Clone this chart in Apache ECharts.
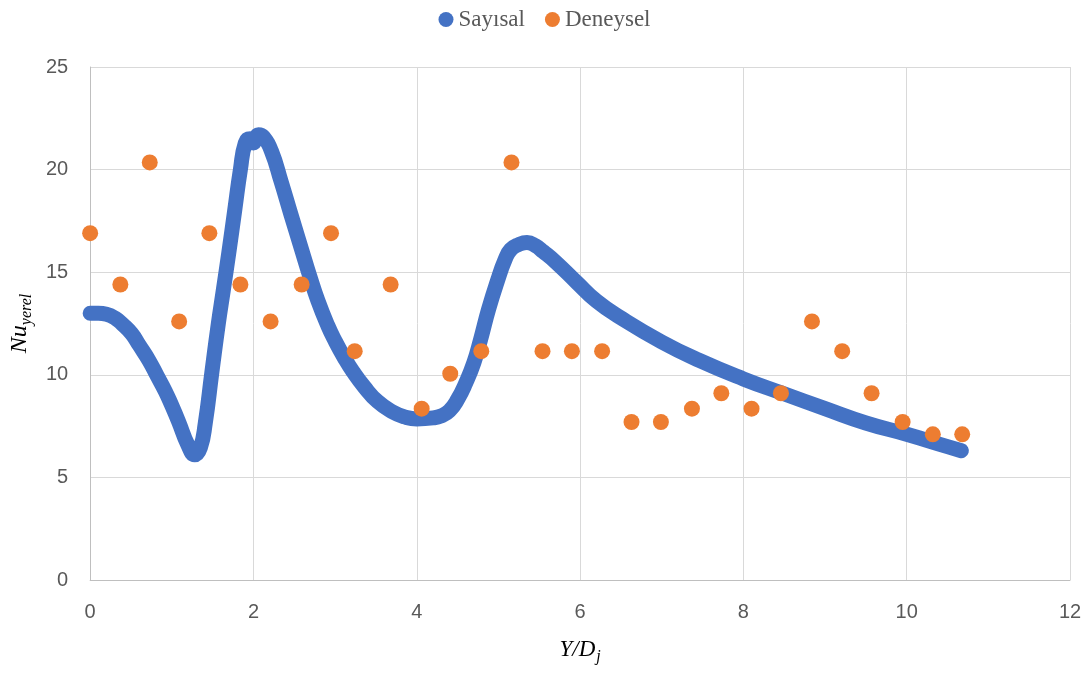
<!DOCTYPE html>
<html>
<head>
<meta charset="utf-8">
<script src="https://cdn.jsdelivr.net/npm/echarts@6/dist/echarts.min.js"></script>
<style>
    html, body { margin: 0; padding: 0; background: #fff; }
    #main { width: 1089px; height: 673px; }
</style>
</head>
<body>
<div id="main"></div>
<script>
// Sayısal (sayısal çözüm) eğrisi
const sayisalX = [0, 0.1, 0.2, 0.31, 0.4, 0.51, 0.6, 0.72, 0.82, 0.92, 1.0, 1.08, 1.2, 1.28, 1.35, 1.41, 1.49, 1.57, 1.63, 1.7, 1.77, 1.84, 1.9, 1.96, 2.0, 2.06, 2.12, 2.22, 2.34, 2.46, 2.59, 2.69, 2.79, 2.91, 3.0, 3.11, 3.22, 3.36, 3.52, 3.7, 3.85, 4.0, 4.2, 4.3, 4.4, 4.5, 4.6, 4.7, 4.78, 4.88, 4.99, 5.08, 5.15, 5.25, 5.35, 5.45, 5.55, 5.7, 5.96, 6.2, 6.49, 7.0, 7.46, 8.0, 8.48, 9.0, 9.5, 10.0, 10.5, 10.67];
const sayisalY = [13.0, 13.0, 12.95, 12.75, 12.45, 12.0, 11.45, 10.7, 9.95, 9.2, 8.5, 7.75, 6.55, 6.1, 6.45, 7.65, 10.1, 12.5, 14.1, 16.0, 18.0, 20.0, 21.3, 21.5, 21.3, 21.7, 21.6, 20.9, 19.4, 17.8, 16.1, 14.8, 13.6, 12.4, 11.65, 10.85, 10.15, 9.4, 8.7, 8.2, 7.95, 7.85, 7.9, 8.0, 8.25, 8.8, 9.6, 10.6, 11.7, 13.2, 14.6, 15.6, 16.1, 16.35, 16.45, 16.3, 16.0, 15.5, 14.5, 13.6, 12.8, 11.6, 10.7, 9.8, 9.1, 8.35, 7.65, 7.1, 6.5, 6.3];

// Deneysel ölçümler
const deneyselX = [0, 0.37, 0.73, 1.09, 1.46, 1.84, 2.21, 2.59, 2.95, 3.24, 3.68, 4.06, 4.41, 4.79, 5.16, 5.54, 5.90, 6.27, 6.63, 6.99, 7.37, 7.73, 8.10, 8.46, 8.84, 9.21, 9.57, 9.95, 10.32, 10.68];
const deneyselY = [16.9, 14.4, 20.35, 12.6, 16.9, 14.4, 12.6, 14.4, 16.9, 11.15, 14.4, 8.35, 10.05, 11.15, 20.35, 11.15, 11.15, 11.15, 7.7, 7.7, 8.35, 9.1, 8.35, 9.1, 12.6, 11.15, 9.1, 7.7, 7.1, 7.1];

const xTicks = [0, 2, 4, 6, 8, 10, 12];
const yTicks = [0, 5, 10, 15, 20, 25];

const chart = echarts.init(document.getElementById('main'));

const labelFont = "'Liberation Sans', sans-serif";
const serifFont = "'Liberation Serif', 'DejaVu Serif', serif";

const option = {
    animation: false,
    color: ['#4472C4', '#ED7D31'],
    legend: {
        top: 3,
        left: 'center',
        itemWidth: 15,
        itemHeight: 15,
        itemGap: 20,
        textStyle: { fontFamily: serifFont, fontSize: 23, color: '#595959' },
        data: [
            { name: 'Sayısal', icon: 'circle' },
            { name: 'Deneysel', icon: 'circle' }
        ]
    },
    grid: { left: 88, right: 19, top: 67, bottom: 93 },
    xAxis: {
        type: 'value',
        min: xTicks[0],
        max: xTicks[xTicks.length - 1],
        interval: 2,
        name: '{i|Y/D}{s|j}',
        nameLocation: 'middle',
        nameGap: 55,
        nameTextStyle: {
            rich: {
                i: { fontFamily: serifFont, fontStyle: 'italic', fontSize: 23, color: '#000' },
                s: { fontFamily: serifFont, fontStyle: 'italic', fontSize: 16, color: '#000', verticalAlign: 'bottom', padding: [14, 0, 0, 1] }
            }
        },
        axisLine: { lineStyle: { color: '#BFBFBF' } },
        axisTick: { show: false },
        axisLabel: { fontFamily: labelFont, fontSize: 20, color: '#595959', margin: 22 },
        splitLine: { show: true, lineStyle: { color: '#D9D9D9', width: 1 } }
    },
    yAxis: {
        type: 'value',
        min: yTicks[0],
        max: yTicks[yTicks.length - 1],
        interval: 5,
        name: '{i|Nu}{s|yerel}',
        nameLocation: 'middle',
        nameGap: 54,
        nameTextStyle: {
            rich: {
                i: { fontFamily: serifFont, fontStyle: 'italic', fontSize: 24, color: '#000' },
                s: { fontFamily: serifFont, fontStyle: 'italic', fontSize: 16, color: '#000', verticalAlign: 'bottom', padding: [14, 0, 0, 0] }
            }
        },
        axisLine: { show: true, lineStyle: { color: '#BFBFBF' } },
        axisTick: { show: false },
        axisLabel: { fontFamily: labelFont, fontSize: 20, color: '#595959', margin: 22 },
        splitLine: { show: true, lineStyle: { color: '#D9D9D9', width: 1 } }
    },
    series: [
        {
            name: 'Sayısal',
            type: 'line',
            smooth: 0.5,
            showSymbol: false,
            symbol: 'circle',
            lineStyle: { width: 15, color: '#4472C4', cap: 'round', join: 'round' },
            itemStyle: { color: '#4472C4' },
            data: sayisalX.map((x, i) => [x, sayisalY[i]]),
            z: 2
        },
        {
            name: 'Deneysel',
            type: 'scatter',
            symbol: 'circle',
            symbolSize: 16,
            itemStyle: { color: '#ED7D31', opacity: 1 },
            data: deneyselX.map((x, i) => [x, deneyselY[i]]),
            z: 3
        }
    ]
};

chart.setOption(option);
</script>
</body>
</html>
